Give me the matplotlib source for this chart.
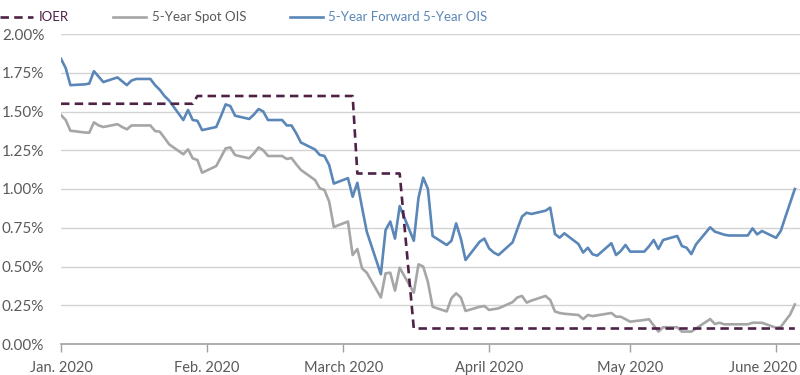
import matplotlib.pyplot as plt
import matplotlib.dates as mdates
import matplotlib.transforms as mtransforms
import numpy as np

# daily observations (business days), values in percent
dates = [
    "2020-01-01", "2020-01-02", "2020-01-03", "2020-01-06", "2020-01-07", "2020-01-08",
    "2020-01-09", "2020-01-10", "2020-01-13", "2020-01-14", "2020-01-15", "2020-01-16",
    "2020-01-17", "2020-01-20", "2020-01-21", "2020-01-22", "2020-01-23", "2020-01-24",
    "2020-01-27", "2020-01-28", "2020-01-29", "2020-01-30", "2020-01-31",
    "2020-02-03", "2020-02-04", "2020-02-05", "2020-02-06", "2020-02-07", "2020-02-10",
    "2020-02-11", "2020-02-12", "2020-02-13", "2020-02-14", "2020-02-17", "2020-02-18",
    "2020-02-19", "2020-02-20", "2020-02-21", "2020-02-24", "2020-02-25", "2020-02-26",
    "2020-02-27", "2020-02-28",
    "2020-03-02", "2020-03-03", "2020-03-04", "2020-03-05", "2020-03-06", "2020-03-09",
    "2020-03-10", "2020-03-11", "2020-03-12", "2020-03-13", "2020-03-16", "2020-03-17",
    "2020-03-18", "2020-03-19", "2020-03-20", "2020-03-23", "2020-03-24", "2020-03-25",
    "2020-03-26", "2020-03-27", "2020-03-30", "2020-03-31",
    "2020-04-01", "2020-04-02", "2020-04-03", "2020-04-06", "2020-04-07", "2020-04-08",
    "2020-04-09", "2020-04-10", "2020-04-13", "2020-04-14", "2020-04-15", "2020-04-16",
    "2020-04-17", "2020-04-20", "2020-04-21", "2020-04-22", "2020-04-23", "2020-04-24",
    "2020-04-27", "2020-04-28", "2020-04-29", "2020-04-30",
    "2020-05-01", "2020-05-04", "2020-05-05", "2020-05-06", "2020-05-07", "2020-05-08",
    "2020-05-11", "2020-05-12", "2020-05-13", "2020-05-14", "2020-05-15", "2020-05-18",
    "2020-05-19", "2020-05-20", "2020-05-21", "2020-05-22", "2020-05-26", "2020-05-27",
    "2020-05-28", "2020-05-29",
    "2020-06-01", "2020-06-02", "2020-06-03", "2020-06-04", "2020-06-05",
]

fwd_ois = [
    1.84, 1.78, 1.67, 1.675, 1.68, 1.76,
    1.725, 1.69, 1.72, 1.695, 1.67, 1.70,
    1.71, 1.71, 1.67, 1.64, 1.60, 1.57,
    1.445, 1.51, 1.445, 1.44, 1.38,
    1.40, 1.47, 1.546, 1.535, 1.473, 1.452,
    1.48, 1.516, 1.50, 1.445, 1.445, 1.41,
    1.41, 1.36, 1.30, 1.255, 1.22, 1.213,
    1.155, 1.035,
    1.07, 0.95, 1.04, 0.88, 0.725, 0.45,
    0.735, 0.79, 0.68, 0.89, 0.666, 0.944,
    1.073, 1.00, 0.697, 0.639, 0.666, 0.778,
    0.68, 0.542, 0.66, 0.68,
    0.617, 0.59, 0.574, 0.656, 0.74, 0.822,
    0.847, 0.839, 0.86, 0.88, 0.71, 0.686,
    0.714, 0.645, 0.59, 0.621, 0.579, 0.57,
    0.65, 0.574, 0.60, 0.639,
    0.596, 0.596, 0.63, 0.671, 0.613, 0.671,
    0.697, 0.632, 0.621, 0.58, 0.643, 0.753,
    0.725, 0.715, 0.705, 0.70, 0.70, 0.746,
    0.707, 0.729,
    0.685, 0.729, 0.82, 0.91, 1.00,
]

spot_ois = [
    1.477, 1.445, 1.376, 1.365, 1.363, 1.43,
    1.41, 1.40, 1.418, 1.40, 1.385, 1.41,
    1.41, 1.41, 1.374, 1.37, 1.33, 1.288,
    1.224, 1.256, 1.198, 1.187, 1.105,
    1.148, 1.205, 1.262, 1.268, 1.219, 1.198,
    1.23, 1.268, 1.25, 1.213, 1.213, 1.194,
    1.20, 1.16, 1.123, 1.058, 1.005, 0.994,
    0.92, 0.755,
    0.79, 0.574, 0.613, 0.488, 0.46, 0.30,
    0.456, 0.46, 0.344, 0.492, 0.331, 0.514,
    0.50, 0.40, 0.24, 0.21, 0.295, 0.327,
    0.30, 0.213, 0.24, 0.245,
    0.22, 0.225, 0.23, 0.27, 0.30, 0.31,
    0.267, 0.28, 0.31, 0.284, 0.21, 0.20,
    0.195, 0.187, 0.161, 0.187, 0.18, 0.185,
    0.20, 0.176, 0.176, 0.16,
    0.144, 0.155, 0.16, 0.12, 0.08, 0.108,
    0.108, 0.08, 0.08, 0.08, 0.10, 0.161,
    0.129, 0.137, 0.127, 0.127, 0.127, 0.137,
    0.137, 0.137,
    0.105, 0.11, 0.15, 0.19, 0.255,
]

# IOER changes
ioer_dates = ["2020-01-01", "2020-01-29", "2020-01-30", "2020-03-03",
              "2020-03-04", "2020-03-13", "2020-03-16", "2020-06-05"]
ioer = [1.55, 1.55, 1.60, 1.60, 1.10, 1.10, 0.10, 0.10]

tick_dates = ["2020-01-01", "2020-02-01", "2020-03-01", "2020-04-01", "2020-05-01", "2020-06-01"]
tick_labels = ["Jan. 2020", "Feb. 2020", "March 2020", "April 2020", "May 2020", "June 2020"]
y_ticks = [0, 0.25, 0.5, 0.75, 1.0, 1.25, 1.5, 1.75, 2.0]

purple = "#4e2147"
gray = "#a6a6a6"
blue = "#5a87b8"
text_gray = "#5a5a5a"

plt.rcParams['font.family'] = ['Lato', 'DejaVu Sans']

fig = plt.figure(figsize=(8, 3.75), dpi=100)
ax = fig.add_axes([61 / 800, 1 - 344 / 375, 1 - 61 / 800, 310 / 375])

x = np.array(dates, dtype="datetime64[D]")
xi = np.array(ioer_dates, dtype="datetime64[D]")

ax.plot(xi, ioer, color=purple, lw=1.9, ls=(0, (3.2, 2.0)), label="IOER", zorder=3)
ax.plot(x, spot_ois, color=gray, lw=1.9, label="5-Year Spot OIS", zorder=2)
ax.plot(x, fwd_ois, color=blue, lw=1.9, label="5-Year Forward 5-Year OIS", zorder=2)

start = np.datetime64("2020-01-01")
ax.set_xlim(mdates.date2num(start), mdates.date2num(start) + (800 - 61) / 4.704)
ax.set_ylim(0, 2.0)

ax.set_yticks(y_ticks)
ax.set_yticklabels([f"{v:.2f}%" for v in y_ticks])
ax.set_xticks(np.array(tick_dates, dtype="datetime64[D]"))
ax.set_xticklabels(tick_labels)

for v in y_ticks[1:]:
    ax.axhline(v, color="#d3d3d3", lw=1, zorder=0)

for s in ["top", "right", "left"]:
    ax.spines[s].set_visible(False)
ax.spines["bottom"].set_color("#a0a0a0")
ax.spines["bottom"].set_linewidth(1.2)

ax.tick_params(axis="y", length=0, pad=12, labelsize=11, labelcolor=text_gray)
ax.tick_params(axis="x", length=6, width=1, color="#a0a0a0", pad=6,
               labelsize=10.5, labelcolor=text_gray)

# keep the last month label inside the figure
last = ax.get_xticklabels()[-1]
last.set_horizontalalignment("right")
last.set_transform(last.get_transform() + mtransforms.ScaledTranslation(21 / 100, 0, fig.dpi_scale_trans))

leg = ax.legend(loc="lower left", bbox_to_anchor=(-61 / 739, 1.035), ncol=3, frameon=False,
                fontsize=9.5, handlelength=2.5, handletextpad=0.45, columnspacing=3.3,
                borderpad=0, borderaxespad=0)
for t, c in zip(leg.get_texts(), [purple, text_gray, blue]):
    t.set_color(c)

fig.savefig("out.png", dpi=100)
